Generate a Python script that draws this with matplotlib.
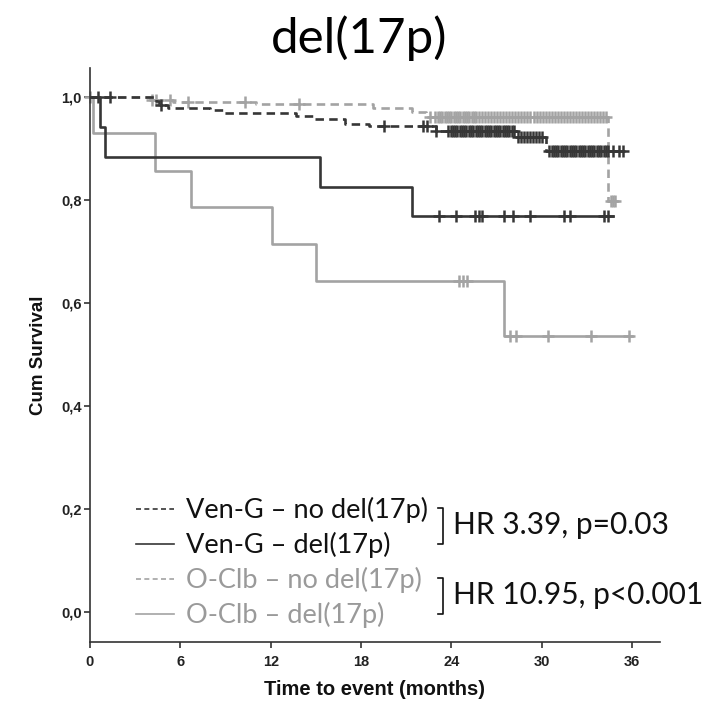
import numpy as np
import matplotlib
matplotlib.use("Agg")
import matplotlib.pyplot as plt
from matplotlib.lines import Line2D

# Kaplan-Meier step data (months, cumulative survival)
veng_nodel_t = [0, 4.4, 4.6, 5.2, 8.0, 8.8, 13.7, 14.8, 16.9, 18.5, 23.0, 28.3, 30.3]
veng_nodel_s = [1.0, 0.992, 0.984, 0.979, 0.975, 0.968, 0.962, 0.957, 0.947, 0.943, 0.933, 0.923, 0.894]
veng_nodel_end = 35.5
veng_nodel_cens = [0.5, 1.3, 4.7, 19.5, 22.1, 22.4, 23.0,
                   23.8, 23.95, 24.1, 24.25, 24.4, 24.55, 24.7, 24.85, 25.0,
                   25.15, 25.3, 25.45, 25.6, 25.75, 25.9, 26.05, 26.2, 26.35,
                   26.5, 26.65, 26.8, 26.95, 27.1, 27.25, 27.4, 27.55, 27.7,
                   27.85, 28.0, 28.15,
                   28.4, 28.6, 28.8, 29.0, 29.2, 29.4, 29.6, 29.8, 30.0,
                   30.5, 30.65, 30.8, 30.95, 31.1, 31.25, 31.4, 31.55, 31.7,
                   31.85, 32.0, 32.15, 32.3, 32.45, 32.6, 32.75, 32.9, 33.05,
                   33.2, 33.35, 33.5, 33.65, 33.8, 33.95, 34.1, 34.25, 34.4,
                   34.75, 35.1, 35.4]

veng_del_t = [0, 0.65, 1.0, 15.3, 21.4]
veng_del_s = [1.0, 0.941, 0.884, 0.826, 0.768]
veng_del_end = 34.7
veng_del_cens = [23.2, 24.3, 25.55, 25.8, 26.05, 27.5, 28.1, 29.2, 31.5, 31.85, 34.1, 34.4]

oclb_nodel_t = [0, 4.0, 5.5, 11.0, 18.8, 21.4, 22.3, 34.4]
oclb_nodel_s = [1.0, 0.994, 0.990, 0.987, 0.979, 0.971, 0.960, 0.797]
oclb_nodel_end = 34.9
oclb_nodel_cens = [0.0, 4.1, 4.4, 5.3, 6.5, 10.3, 13.9, 22.6, 22.9,
                   23.1, 23.25, 23.4, 23.55, 23.7, 23.85, 24.0, 24.15, 24.3,
                   24.45, 24.6, 24.75, 24.9, 25.05, 25.2, 25.35, 25.5, 25.65,
                   25.85, 26.05, 26.25, 26.45, 26.65, 26.85, 27.05, 27.25,
                   27.45, 27.65, 27.85, 28.05, 28.25, 28.45, 28.65, 28.85,
                   29.05, 29.25, 29.45, 29.65, 29.85, 30.05, 30.25, 30.45,
                   30.65, 30.85, 31.05, 31.25, 31.45, 31.65, 31.85, 32.05,
                   32.25, 32.45, 32.65, 32.85, 33.05, 33.25, 33.45, 33.65,
                   33.85, 34.05, 34.25, 34.6, 34.75, 34.85]

oclb_del_t = [0, 0.2, 4.3, 6.7, 12.1, 15.0, 27.5]
oclb_del_s = [1.0, 0.929, 0.857, 0.786, 0.714, 0.643, 0.536]
oclb_del_end = 36.0
oclb_del_cens = [24.5, 24.77, 25.05, 27.9, 28.3, 30.4, 33.3, 35.8]

labels = ["Ven-G \u2013 no del(17p)", "Ven-G \u2013 del(17p)",
          "O-Clb \u2013 no del(17p)", "O-Clb \u2013 del(17p)"]
hr_texts = ["HR 3.39, p=0.03", "HR 10.95, p<0.001"]

dark = "#363636"
light = "#a3a3a3"
tick_font = ["Liberation Sans Narrow", "Liberation Sans", "DejaVu Sans"]


def km_plot(ax, t, s, end, cens, color, dashed):
    t = np.asarray(t)
    s = np.asarray(s)
    x = np.append(t, end)
    y = np.append(s, s[-1])
    ls = (0, (3.2, 2.0)) if dashed else "-"
    ax.step(x, y, where="post", color=color, lw=1.9, linestyle=ls)
    idx = np.searchsorted(t, cens, side="right") - 1
    ax.plot(cens, s[idx], linestyle="none", marker="+", ms=8, mew=1.8,
            color=color, clip_on=False)


fig = plt.figure(figsize=(7.22, 7.02), dpi=100)
ax = fig.add_axes([90 / 722, 1 - 642 / 702, 570 / 722, 574 / 702])

km_plot(ax, oclb_del_t, oclb_del_s, oclb_del_end, oclb_del_cens, light, False)
km_plot(ax, oclb_nodel_t, oclb_nodel_s, oclb_nodel_end, oclb_nodel_cens, light, True)
km_plot(ax, veng_del_t, veng_del_s, veng_del_end, veng_del_cens, dark, False)
km_plot(ax, veng_nodel_t, veng_nodel_s, veng_nodel_end, veng_nodel_cens, dark, True)

ax.set_xlim(0, 37.85)
ax.set_ylim(-0.058, 1.056)
for side in ["top", "right"]:
    ax.spines[side].set_visible(False)
for side in ["left", "bottom"]:
    ax.spines[side].set_color("#333333")
    ax.spines[side].set_linewidth(1.2)

ax.set_xticks([0, 6, 12, 18, 24, 30, 36])
ax.set_yticks([0.0, 0.2, 0.4, 0.6, 0.8, 1.0])
ax.set_yticklabels(["0,0", "0,2", "0,4", "0,6", "0,8", "1,0"])
ax.tick_params(direction="out", length=4, width=1.2, color="#333333")
ax.tick_params(axis="y", pad=2)
ax.tick_params(axis="x", pad=5)
for lab in ax.get_xticklabels() + ax.get_yticklabels():
    lab.set_family(tick_font)
    lab.set_fontweight("bold")
    lab.set_fontsize(10.5)
    lab.set_color("#222222")

ax.set_xlabel("Time to event (months)", family=tick_font, fontweight="bold",
              fontsize=14.5, color="#111111")
ax.xaxis.set_label_coords(0.5, -0.066)
ax.set_ylabel("Cum Survival", family=tick_font, fontweight="bold",
              fontsize=13.5, color="#111111")
ax.yaxis.set_label_coords(-0.076, 0.5)

fig.text(359 / 722, 1 - 38 / 702, "del(17p)", ha="center", va="center",
         family=["Lato", "DejaVu Sans"], fontsize=35.5)

# legend
handles = [Line2D([], [], color=dark, lw=1.2, linestyle=(0, (3, 2))),
           Line2D([], [], color=dark, lw=1.2),
           Line2D([], [], color=light, lw=1.2, linestyle=(0, (3, 2))),
           Line2D([], [], color=light, lw=1.2)]
leg = ax.legend(handles, labels, loc="upper left",
                bbox_to_anchor=(136 / 722, 1 - 497 / 702),
                bbox_transform=fig.transFigure, frameon=False,
                prop={"family": ["Lato", "DejaVu Sans"], "size": 19.5},
                handlelength=1.4, handletextpad=0.45, labelspacing=0.33,
                borderpad=0, borderaxespad=0)
for txt, c in zip(leg.get_texts(), ["#111111", "#111111", "#9a9a9a", "#9a9a9a"]):
    txt.set_color(c)

# HR brackets
for (y0, y1), hr in zip([(508, 544), (578, 614)], hr_texts):
    xs = [438 / 722, 443 / 722, 443 / 722, 438 / 722]
    ys = [1 - y0 / 702, 1 - y0 / 702, 1 - y1 / 702, 1 - y1 / 702]
    fig.add_artist(Line2D(xs, ys, color="#111111", lw=1.2))
    fig.text(453 / 722, 1 - ((y0 + y1) / 2 - 1) / 702, hr, ha="left", va="center",
             family=["Lato", "DejaVu Sans"], fontsize=21.5, color="#111111")

fig.savefig("out.png", dpi=100)
